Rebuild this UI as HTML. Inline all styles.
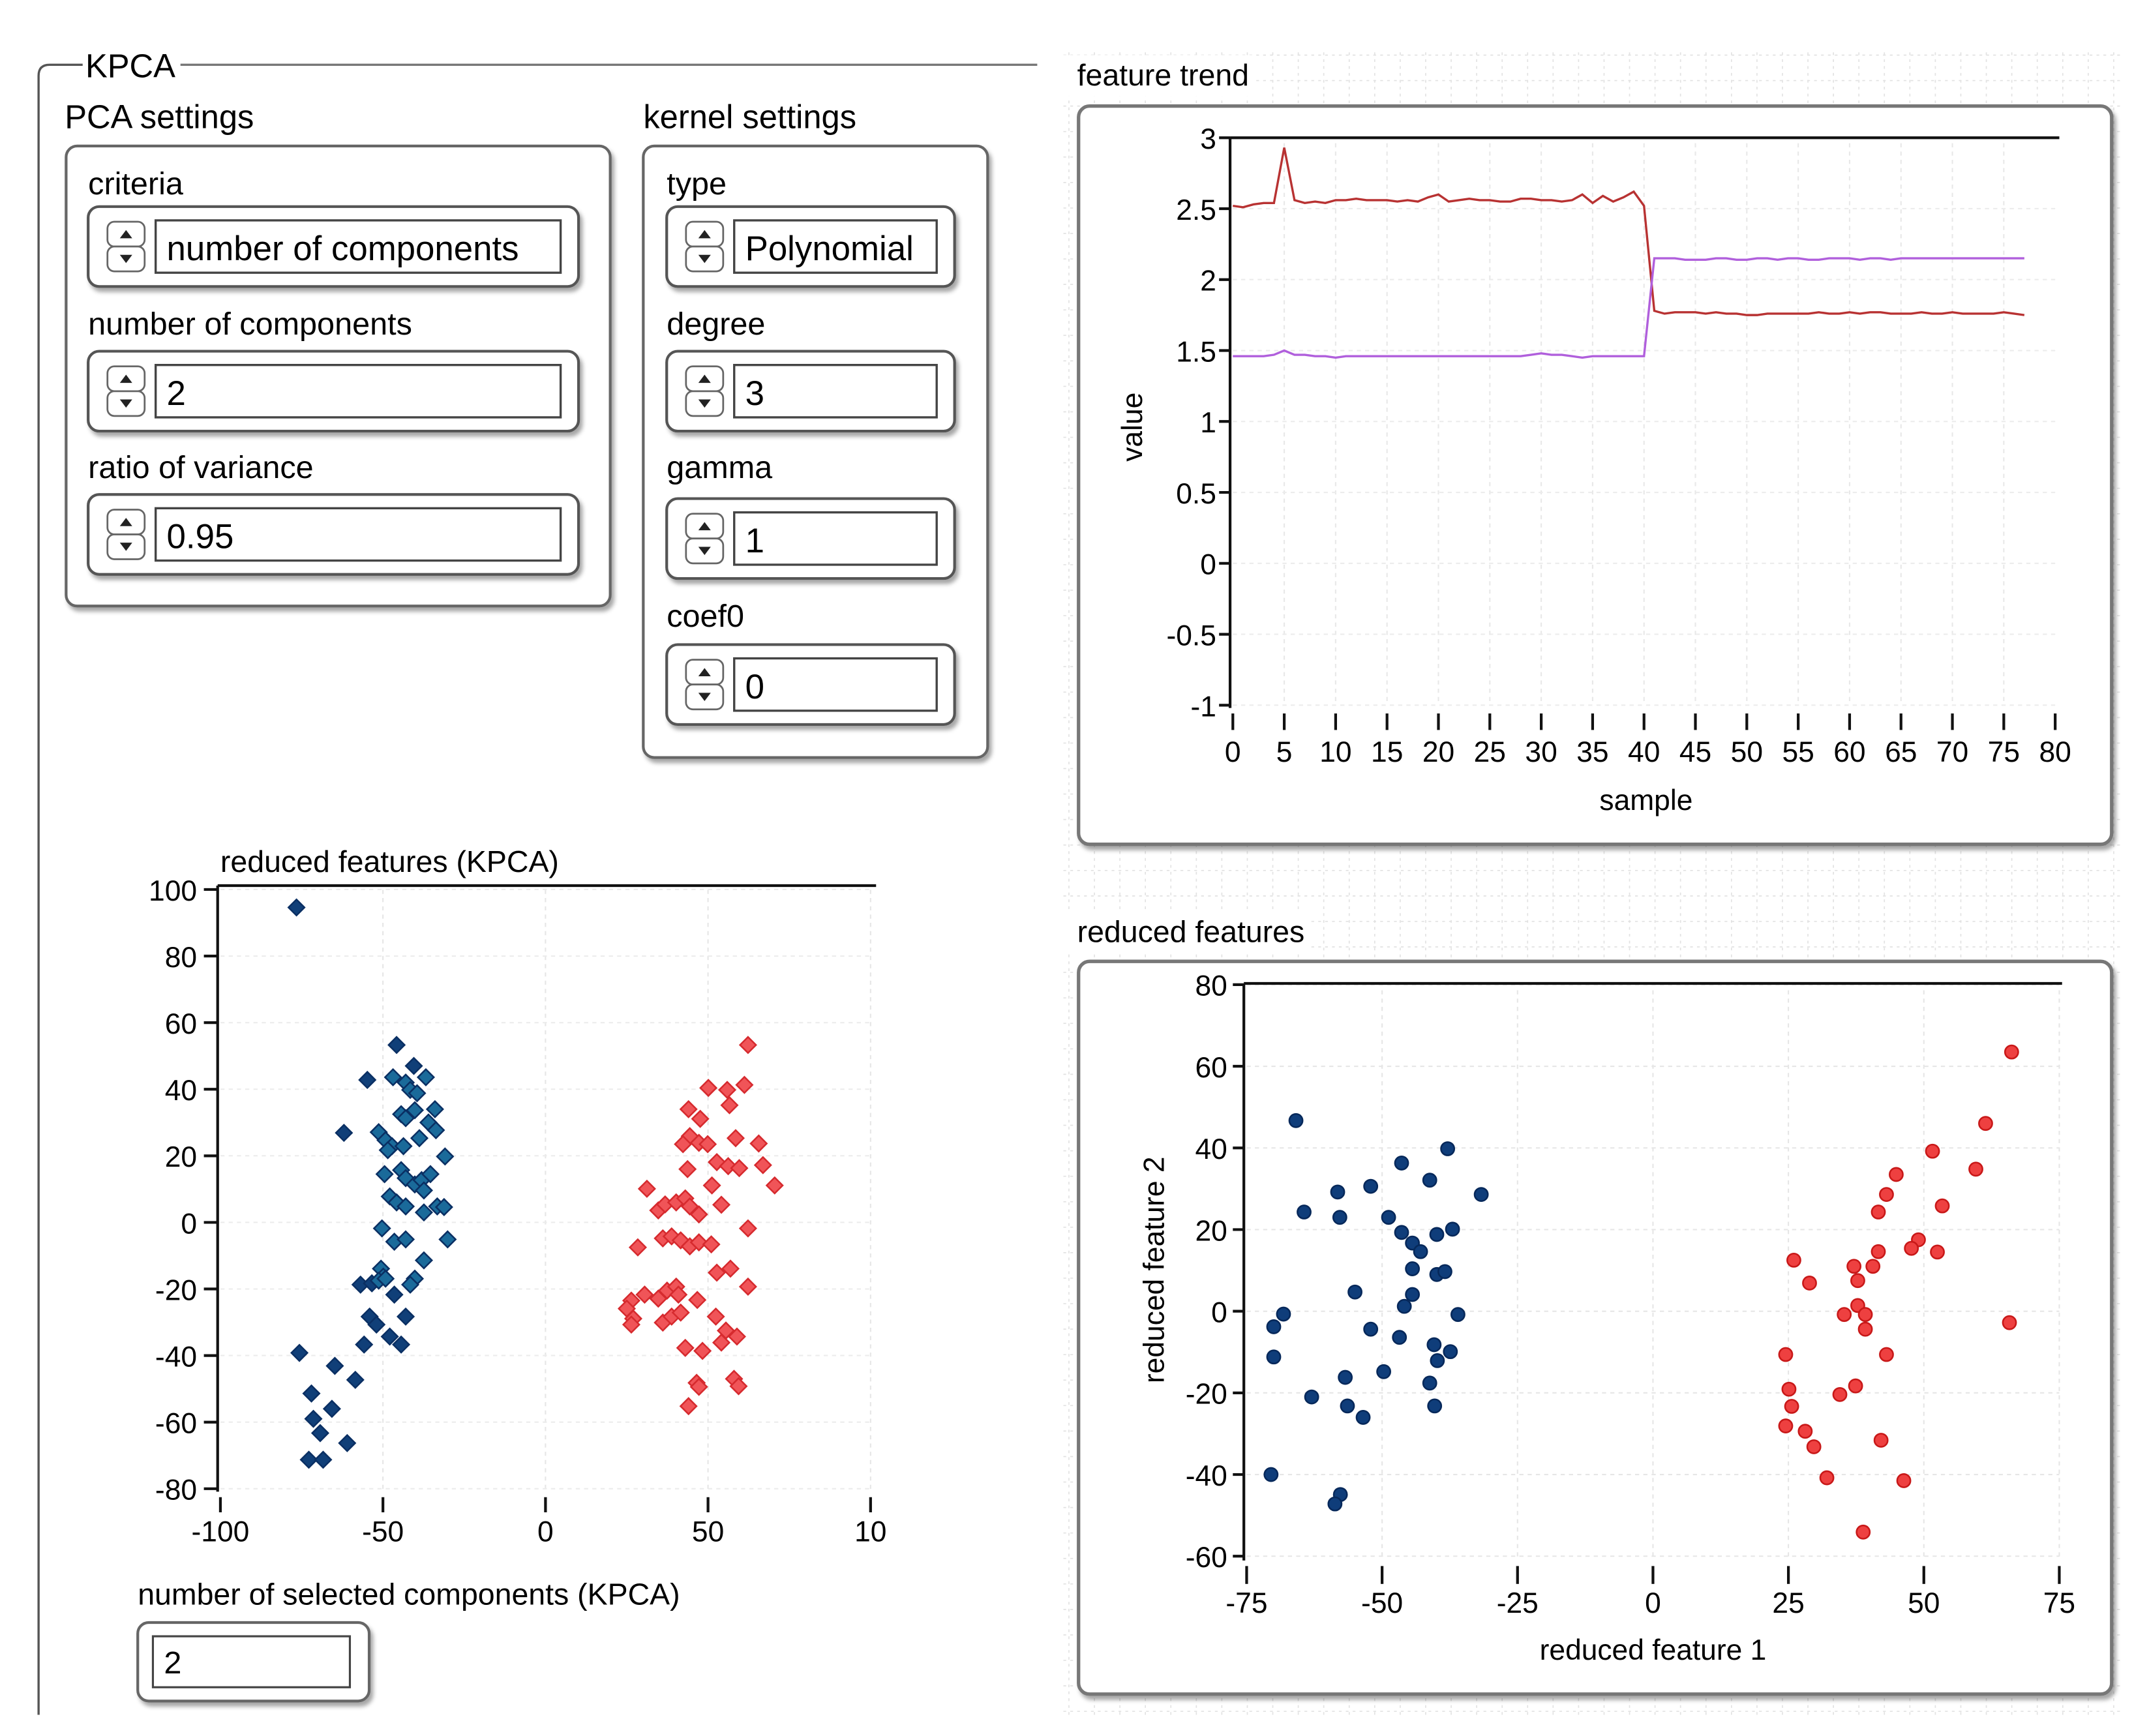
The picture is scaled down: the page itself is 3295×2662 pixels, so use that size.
<!DOCTYPE html>
<html><head><meta charset="utf-8"><title>KPCA</title>
<style>
html,body{margin:0;padding:0;background:#fff;}
svg{display:block;font-family:"Liberation Sans",sans-serif;}
</style></head>
<body>
<svg id="root" xmlns="http://www.w3.org/2000/svg" width="3295" height="2662" viewBox="0 0 1560.1 1260.4">
<defs>
<filter id="sh" x="-5%" y="-5%" width="115%" height="125%"><feDropShadow dx="2" dy="3" stdDeviation="1.5" flood-color="#000" flood-opacity="0.35"/></filter>
</defs>
<rect x="0" y="0" width="1560.1" height="1260.4" fill="#fff"/>
<g id="bggrid"></g>
<path d="M60,47 L36,47 Q28,47 28,55 L28,1245" fill="none" stroke="#555" stroke-width="1.6"/>
<line x1="131" y1="47" x2="753" y2="47" stroke="#777" stroke-width="1.6"/>
<text x="62" y="56" font-size="24">KPCA</text>
<text x="47" y="93" font-size="24">PCA settings</text>
<rect x="48" y="106" width="395" height="334" rx="8" fill="#fff" stroke="#666" stroke-width="2" filter="url(#sh)"/>
<text x="467" y="93" font-size="24">kernel settings</text>
<rect x="467" y="106" width="250" height="444" rx="8" fill="#fff" stroke="#666" stroke-width="2" filter="url(#sh)"/>
<g id="controls"></g>

<rect x="772" y="40" width="138" height="30" fill="#fff"/>
<text x="782" y="62" font-size="22">feature trend</text>
<rect x="783" y="77" width="750" height="536" rx="8" fill="#fff" stroke="#777" stroke-width="2.5" filter="url(#sh)"/>
<g id="trend"></g>

<rect x="772" y="662" width="180" height="30" fill="#fff"/>
<text x="782" y="684" font-size="22">reduced features</text>
<rect x="783" y="698" width="750" height="532" rx="8" fill="#fff" stroke="#777" stroke-width="2.5" filter="url(#sh)"/>
<g id="rscatter"></g>

<text x="160" y="633" font-size="22">reduced features (KPCA)</text>
<g id="kscatter"></g>

<text x="100" y="1165" font-size="22">number of selected components (KPCA)</text>
<rect x="100" y="1178" width="168" height="57" rx="8" fill="#fff" stroke="#666" stroke-width="2" filter="url(#sh)"/>
<rect x="111" y="1188" width="143" height="37" fill="#fff" stroke="#444" stroke-width="1.5"/>
<text x="119" y="1215" font-size="23">2</text>
</svg>
<script>
const NS="http://www.w3.org/2000/svg";
function mk(tag,attrs,parent,txt){const e=document.createElementNS(NS,tag);for(const k in attrs)e.setAttribute(k,attrs[k]);if(txt!==undefined)e.textContent=txt;parent.appendChild(e);return e;}

const trendSamples=[];for(let i=0;i<78;i++)trendSamples.push(i);
const trendRed=[2.52,2.51,2.53,2.54,2.54,2.93,2.56,2.54,2.55,2.54,2.56,2.56,2.57,2.56,2.56,2.56,2.55,2.56,2.55,2.58,2.6,2.55,2.56,2.57,2.56,2.56,2.55,2.55,2.57,2.57,2.56,2.56,2.55,2.56,2.6,2.54,2.59,2.55,2.58,2.62,2.52,1.78,1.76,1.77,1.77,1.77,1.76,1.77,1.76,1.76,1.75,1.75,1.76,1.76,1.76,1.76,1.76,1.77,1.76,1.76,1.77,1.76,1.77,1.77,1.76,1.76,1.76,1.77,1.76,1.76,1.77,1.76,1.76,1.76,1.76,1.77,1.76,1.75];
const trendPurple=[1.46,1.46,1.46,1.46,1.47,1.5,1.47,1.47,1.46,1.46,1.45,1.46,1.46,1.46,1.46,1.46,1.46,1.46,1.46,1.46,1.46,1.46,1.46,1.46,1.46,1.46,1.46,1.46,1.46,1.47,1.48,1.47,1.47,1.46,1.45,1.46,1.46,1.46,1.46,1.46,1.46,2.15,2.15,2.15,2.14,2.14,2.14,2.15,2.15,2.14,2.14,2.15,2.15,2.14,2.15,2.15,2.14,2.14,2.15,2.15,2.15,2.14,2.15,2.15,2.14,2.15,2.15,2.15,2.15,2.15,2.15,2.15,2.15,2.15,2.15,2.15,2.15,2.15];
const trendXTicks=[0,5,10,15,20,25,30,35,40,45,50,55,60,65,70,75,80];
const trendYTicks=[3,2.5,2,1.5,1,0.5,0,-0.5,-1];

const rfBlueX=[-65.9,-37.9,-46.4,-41.2,-52.1,-58.2,-31.7,-64.4,-57.8,-48.8,-46.4,-39.9,-37,-44.4,-42.9,-44.4,-39.9,-38.4,-55,-44.4,-45.9,-68.2,-36,-70,-52.1,-46.8,-40.4,-37.4,-39.8,-70,-49.7,-56.8,-41.2,-63,-56.4,-40.3,-53.5,-70.5,-57.7,-58.7];
const rfBlueY=[46.7,39.8,36.3,32.1,30.6,29.2,28.6,24.3,23,23,19.3,18.8,20.1,16.7,14.6,10.4,9,9.7,4.7,4.1,1.2,-0.7,-0.8,-3.8,-4.4,-6.4,-8.2,-9.9,-12.1,-11.2,-14.8,-16.2,-17.6,-21,-23.2,-23.2,-26,-40,-44.9,-47.2];
const rfRedX=[66.2,61.4,51.6,59.6,44.9,43.1,53.4,41.6,49,47.7,52.5,41.6,26,37.1,40.6,37.8,28.9,37.8,35.3,39.2,39.2,65.8,24.5,43.1,25.1,37.4,34.5,25.6,24.5,28.1,29.7,42.1,32.1,46.3,38.8];
const rfRedY=[63.5,46,39.2,34.8,33.5,28.6,25.8,24.3,17.5,15.4,14.5,14.6,12.5,11,11,7.5,6.9,1.4,-0.8,-0.8,-4.4,-2.8,-10.6,-10.6,-19.1,-18.3,-20.4,-23.3,-28.1,-29.4,-33.2,-31.6,-40.8,-41.5,-54.1];
const rfXTicks=[-75,-50,-25,0,25,50,75];
const rfYTicks=[80,60,40,20,0,-20,-40,-60];

const kBlueX=[-76.6,-45.8,-40.5,-54.8,-46.9,-36.8,-43,-41.6,-39.5,-62,-44.4,-43,-40.2,-34,-36,-33.7,-51.3,-49.2,-47.2,-48.5,-43.7,-38.8,-30.9,-49.5,-44.4,-43,-40.2,-38.1,-35.4,-37.4,-47.9,-45.8,-43,-37.4,-33.3,-31.2,-50.3,-46.5,-43,-30.1,-37.4,-50.6,-49.9,-56.9,-53.4,-51.3,-49.2,-40.2,-41.6,-46.5,-54.1,-52,-43,-55.8,-47.9,-44.4,-75.7,-64.8,-58.5,-72,-65.7,-71.4,-69.3,-61,-72.8,-68.4];
const kBlueY=[94.6,53.3,47,42.8,43.6,43.6,42,39.8,38.8,26.9,32.5,31.3,33.7,34,30,27.7,27.1,24.7,22.9,21.7,22.9,25.3,19.8,14.5,15.7,13.3,11.4,12.7,14.5,9.6,7.8,6,4.8,3,4.8,4.6,-1.8,-5.8,-5.1,-5.1,-11.4,-13.9,-16.3,-18.7,-18.3,-17.5,-16.9,-16.9,-18.7,-21.7,-28.3,-30.7,-28.3,-36.7,-34.3,-36.7,-39.2,-43.1,-47.3,-51.4,-56,-59,-63.3,-66.3,-71.3,-71.3];
const kRedX=[62.3,50.1,55.9,61.2,56.6,44,47.6,44.4,42.3,47.2,49.9,58.5,65.6,66.9,70.5,43.7,52.7,56.2,59.6,31.2,51.2,54.1,34.7,36.8,40.2,43,44.4,47.2,62.3,28.4,36.1,38.8,41.6,44.4,47.2,51,52.7,56.9,62.3,26.4,25,27,26.4,30.5,34.7,37.4,40.2,40.9,46.7,36.1,38.8,41.6,52.4,55.5,54.1,58.9,43,48.3,46.5,47.2,58,59.4,44];
const kRedY=[53.3,40.4,39.8,41.3,35.2,34,31.1,25.9,23.5,23.9,23.5,25.3,23.7,17.2,11.1,16,18.1,16.9,16.3,10.1,11.1,5.3,3.6,5.4,6,7.2,4.8,2.4,-1.8,-7.5,-4.8,-4.2,-5.4,-7.2,-6,-6.6,-15.1,-13.9,-19.3,-23.5,-25.9,-28.9,-30.7,-21.7,-22.9,-20.5,-19.3,-21.7,-23.3,-30.1,-28.3,-27.1,-28.3,-32.5,-36.1,-34.3,-37.7,-38.6,-48.2,-49.4,-47,-49.2,-55.2];
const kXTicks=[-100,-50,0,50,100];
const kYTicks=[100,80,60,40,20,0,-20,-40,-60,-80];

const bg=document.getElementById('bggrid');
for(let x=776;x<1540;x+=18.5){mk('line',{x1:x,y1:38,x2:x,y2:1245,stroke:'#e2e2e2','stroke-width':0.8,'stroke-dasharray':'2 3'},bg);}
for(let y=40;y<1245;y+=18.5){mk('line',{x1:772,y1:y,x2:1540,y2:y,stroke:'#e2e2e2','stroke-width':0.8,'stroke-dasharray':'2 3'},bg);}

const cg=document.getElementById('controls');
const ctrls=[
 {lab:'criteria',val:'number of components',x:64,y:150,w:356,ly:141,name:'criteria'},
 {lab:'number of components',val:'2',x:64,y:255,w:356,ly:243,name:'number-of-components'},
 {lab:'ratio of variance',val:'0.95',x:64,y:359,w:356,ly:347,name:'ratio-of-variance'},
 {lab:'type',val:'Polynomial',x:484,y:150,w:209,ly:141,name:'kernel-type'},
 {lab:'degree',val:'3',x:484,y:255,w:209,ly:243,name:'degree'},
 {lab:'gamma',val:'1',x:484,y:362,w:209,ly:347,name:'gamma'},
 {lab:'coef0',val:'0',x:484,y:468,w:209,ly:455,name:'coef0'}];
ctrls.forEach(c=>{
 const lt=mk('text',{x:c.x,y:c.ly,'font-size':23},cg,c.lab);
 
 
 const g=mk('g',{},cg);
 
 
 mk('rect',{x:c.x,y:c.y,width:c.w,height:58,rx:8,fill:'#fff',stroke:'#555','stroke-width':2,filter:'url(#sh)'},g);
 const sp=mk('g',{},g);
 
 
 mk('rect',{x:c.x+14,y:c.y+11,width:27,height:18,rx:5,fill:'#fff',stroke:'#666','stroke-width':1.3},sp);
 mk('rect',{x:c.x+14,y:c.y+29,width:27,height:18,rx:5,fill:'#fff',stroke:'#666','stroke-width':1.3},sp);
 mk('path',{d:`M${c.x+23},${c.y+23} L${c.x+27.5},${c.y+17} L${c.x+32},${c.y+23} Z`,fill:'#222'},sp);
 mk('path',{d:`M${c.x+23},${c.y+35} L${c.x+27.5},${c.y+41} L${c.x+32},${c.y+35} Z`,fill:'#222'},sp);
 const f=mk('rect',{x:c.x+49,y:c.y+10,width:c.w-62,height:38,fill:'#fff',stroke:'#444','stroke-width':1.6},g);
 
 
 const vt=mk('text',{x:c.x+57,y:c.y+39,'font-size':25},g,c.val);
 
 
});

const tg=document.getElementById('trend');
const tx=v=>895+v*(1492-895)/80, ty=v=>100+(3-v)*103;
trendXTicks.forEach(t=>{if(t>0&&t<80)mk('line',{x1:tx(t),y1:104,x2:tx(t),y2:510,stroke:'#e8e8e8','stroke-width':1,'stroke-dasharray':'3 3'},tg);});
trendYTicks.forEach(t=>{mk('line',{x1:895,y1:ty(t),x2:1495,y2:ty(t),stroke:'#ececec','stroke-width':1,'stroke-dasharray':'3 3'},tg);});
mk('line',{x1:893,y1:100,x2:1495,y2:100,stroke:'#111','stroke-width':2},tg);
mk('line',{x1:893,y1:100,x2:893,y2:514,stroke:'#111','stroke-width':2},tg);
trendYTicks.forEach(t=>{
 mk('line',{x1:885,y1:ty(t),x2:893,y2:ty(t),stroke:'#111','stroke-width':2},tg);
 const l=mk('text',{x:883,y:ty(t)+8,'font-size':21,'text-anchor':'end'},tg,String(t));
 
 
});
trendXTicks.forEach(t=>{
 mk('line',{x1:tx(t),y1:518,x2:tx(t),y2:530,stroke:'#111','stroke-width':2},tg);
 const l=mk('text',{x:tx(t),y:553,'font-size':21,'text-anchor':'middle'},tg,String(t));
 
 
});
const xt=mk('text',{x:1195,y:588,'font-size':21,'text-anchor':'middle'},tg,'sample');


const yt=mk('text',{x:829,y:310,'font-size':21,'text-anchor':'middle',transform:'rotate(-90 829 310)'},tg,'value');


function series(arr,col,name){
 const d=arr.map((v,i)=>(i?'L':'M')+tx(trendSamples[i]).toFixed(2)+','+ty(v).toFixed(2)).join(' ');
 const p=mk('path',{d:d,fill:'none',stroke:col,'stroke-width':1.6},tg);
 
 
}
series(trendRed,'#b83232','feature-1-line');
series(trendPurple,'#b05fdc','feature-2-line');

const rg=document.getElementById('rscatter');
const rx=v=>1200+v*3.933, ry=v=>952-v*2.964;
rfXTicks.forEach(t=>{if(t>-75)mk('line',{x1:rx(t),y1:719,x2:rx(t),y2:1132,stroke:'#e6e6e6','stroke-width':1,'stroke-dasharray':'3 3'},rg);});
rfYTicks.forEach(t=>{mk('line',{x1:905,y1:ry(t),x2:1495,y2:ry(t),stroke:'#e6e6e6','stroke-width':1,'stroke-dasharray':'3 3'},rg);});
mk('line',{x1:903,y1:714,x2:1497,y2:714,stroke:'#111','stroke-width':2},rg);
mk('line',{x1:903,y1:714,x2:903,y2:1133,stroke:'#111','stroke-width':2},rg);
rfYTicks.forEach(t=>{
 mk('line',{x1:895,y1:ry(t),x2:903,y2:ry(t),stroke:'#111','stroke-width':2},rg);
 const l=mk('text',{x:891,y:ry(t)+8,'font-size':21,'text-anchor':'end'},rg,String(t));
 
 
});
rfXTicks.forEach(t=>{
 mk('line',{x1:rx(t),y1:1137,x2:rx(t),y2:1150,stroke:'#111','stroke-width':2},rg);
 const l=mk('text',{x:rx(t),y:1171,'font-size':21,'text-anchor':'middle'},rg,String(t));
 
 
});
const rxt=mk('text',{x:1200,y:1205,'font-size':21,'text-anchor':'middle'},rg,'reduced feature 1');


const ryt=mk('text',{x:845,y:922,'font-size':21,'text-anchor':'middle',transform:'rotate(-90 845 922)'},rg,'reduced feature 2');


rfBlueX.forEach((v,i)=>{
 const c=mk('circle',{cx:rx(v),cy:ry(rfBlueY[i]),r:4.8,fill:'#0f3d7a',stroke:'#06285a','stroke-width':1.2},rg);
 
 
});
rfRedX.forEach((v,i)=>{
 const c=mk('circle',{cx:rx(v),cy:ry(rfRedY[i]),r:4.8,fill:'#ee4040',stroke:'#c81818','stroke-width':1.2},rg);
 
 
});

const kg=document.getElementById('kscatter');
const kx=v=>396+v*2.36, ky=v=>887.5-v*2.417;
kXTicks.forEach(t=>{if(t>-100)mk('line',{x1:kx(t),y1:646,x2:kx(t),y2:1082,stroke:'#e6e6e6','stroke-width':1,'stroke-dasharray':'3 3'},kg);});
kYTicks.forEach(t=>{mk('line',{x1:160,y1:ky(t),x2:634,y2:ky(t),stroke:'#ececec','stroke-width':1,'stroke-dasharray':'3 3'},kg);});
mk('line',{x1:158,y1:643,x2:636,y2:643,stroke:'#111','stroke-width':2},kg);
mk('line',{x1:158,y1:643,x2:158,y2:1083,stroke:'#111','stroke-width':2},kg);
kYTicks.forEach(t=>{
 mk('line',{x1:148,y1:ky(t),x2:158,y2:ky(t),stroke:'#111','stroke-width':2},kg);
 const l=mk('text',{x:143,y:ky(t)+8,'font-size':21,'text-anchor':'end'},kg,String(t));
 
 
});
kXTicks.forEach(t=>{
 mk('line',{x1:kx(t),y1:1087,x2:kx(t),y2:1098,stroke:'#111','stroke-width':2},kg);
 const l=mk('text',{x:kx(t),y:1119,'font-size':21,'text-anchor':'middle'},kg,t===100?'10':String(t));
 
 
});
function diamond(x,y,s){return `M${x},${y-s} L${x+s},${y} L${x},${y+s} L${x-s},${y} Z`;}
kBlueX.forEach((v,i)=>{
 const y=kBlueY[i];
 const inner=(v>-52&&v<-30&&y>-20&&y<45);
 const p=mk('path',{d:diamond(kx(v),ky(y),5.8),fill:inner?'#1a6a9a':'#103f78',stroke:'#0a2f63','stroke-width':1.2},kg);
 
 
});
kRedX.forEach((v,i)=>{
 const p=mk('path',{d:diamond(kx(v),ky(kRedY[i]),5.8),fill:'#f05458',stroke:'#d62a2e','stroke-width':1.2},kg);
 
 
});
</script>
</body></html>
